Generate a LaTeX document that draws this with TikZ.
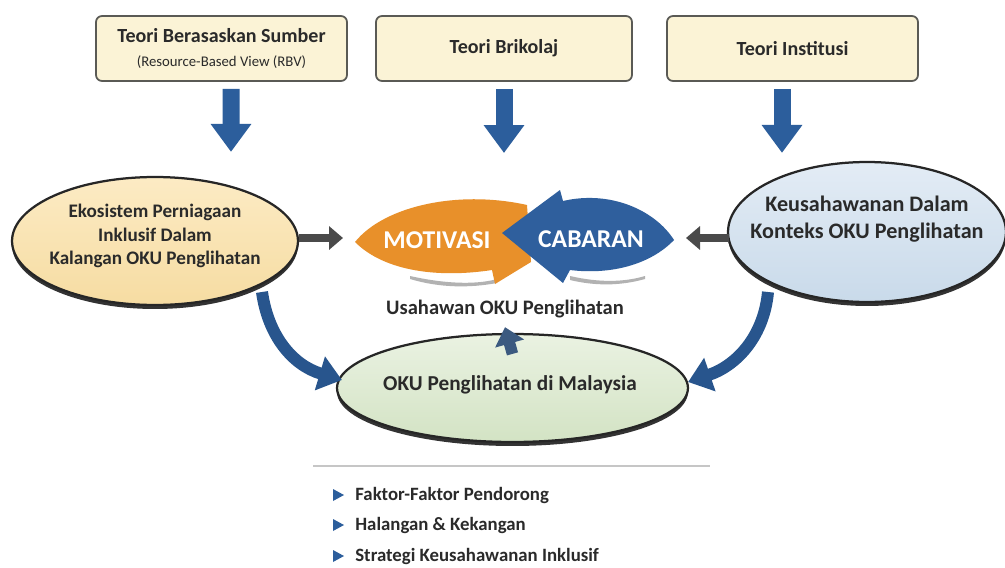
\documentclass[tikz,border=0pt]{standalone}
\usepackage{fontspec}
\setmainfont{Carlito}
\usetikzlibrary{arrows.meta,shapes.geometric}
\definecolor{boxfill}{HTML}{FBF3D6}
\definecolor{boxline}{HTML}{5A5A55}
\definecolor{darkblue}{HTML}{2C5E9C}
\definecolor{ink}{HTML}{2A2A2A}
\definecolor{orng}{HTML}{E8902A}
\definecolor{bluesh}{HTML}{2F5F9D}
\definecolor{garr}{HTML}{4A4A4A}
\definecolor{upblue}{HTML}{3C5A80}
\definecolor{yelA}{HTML}{FCEBC4}
\definecolor{yelB}{HTML}{F6DCA2}
\definecolor{bluA}{HTML}{E3ECF5}
\definecolor{bluB}{HTML}{C9DAEA}
\definecolor{grnA}{HTML}{EAF2E2}
\definecolor{grnB}{HTML}{D3E3C4}
\begin{document}
\begin{tikzpicture}[x=0.02cm,y=-0.02cm,
  tbox/.style={draw=boxline, line width=0.35mm, fill=boxfill, rounded corners=1.2mm,
    minimum height=1.3cm, inner sep=0pt, align=center, text=ink},
  ttl/.style={font=\fontsize{11.4}{13}\selectfont\bfseries},
  ell/.style={ellipse, draw=black!85, line width=0.45mm, inner sep=0pt},
  etext/.style={align=center, text=ink, inner sep=0pt, font=\fontsize{10.9}{13.6}\selectfont\bfseries},
  rim/.style={fill=black!80},
  downarr/.style={darkblue, line width=3.4mm, -{Triangle[length=5.6mm,width=7.8mm]}},
  grayarr/.style={garr, line width=1.7mm, -{Triangle[length=2.8mm,width=4.6mm]}},
  curvarr/.style={darkblue!90!black, line width=2.4mm, -{Triangle[length=4.6mm,width=6.8mm]}},
  uparr/.style={upblue, line width=2.3mm, -{Triangle[length=3.4mm,width=5.8mm]}},
  bigword/.style={text=white, font=\fontsize{14.6}{16}\selectfont\bfseries},
  plain/.style={text=ink, font=\fontsize{11.7}{13}\selectfont\bfseries},
  bul/.style={anchor=west, text=ink, inner sep=0pt, font=\fontsize{10.7}{12}\selectfont\bfseries}
]
\useasboundingbox (0,0) rectangle (1005,568);
\fill[white] (0,0) rectangle (1005,568);

% top boxes
\node[tbox, minimum width=5.02cm] (b1) at (221.5,48.5)
  {{\fontsize{11.4}{13}\selectfont\bfseries Teori Berasaskan Sumber}\\[2pt]
   {\fontsize{8.4}{9}\selectfont (Resource-Based View (RBV)}};
\node[tbox, minimum width=5.12cm, ttl] (b2) at (504,48.5) {Teori Brikolaj};
\node[tbox, minimum width=5.02cm, ttl] (b3) at (792.5,48.5) {Teori Institusi};

% ellipses with dark rim
\fill[rim] (155,245) ellipse [x radius=2.86cm, y radius=1.28cm];
\node[ell, minimum width=5.72cm, minimum height=2.56cm, top color=yelA, bottom color=yelB]
  (eL) at (155,241) {};
\node[etext] (tL) at (155,236) {Ekosistem Perniagaan\\Inklusif Dalam\\Kalangan OKU Penglihatan};
\fill[rim] (867,236) ellipse [x radius=2.78cm, y radius=1.40cm];
\node[ell, minimum width=5.56cm, minimum height=2.8cm, top color=bluA, bottom color=bluB]
  (eR) at (867,232) {};
\node[etext, font=\fontsize{12.6}{15.4}\selectfont\bfseries] (tR) at (867,219)
  {Keusahawanan Dalam\\Konteks OKU Penglihatan};
\fill[rim] (512.5,392) ellipse [x radius=3.51cm, y radius=1.08cm];
\node[ell, minimum width=7.02cm, minimum height=2.16cm, top color=grnA, bottom color=grnB]
  (eB) at (512.5,388) {};
\node[etext, font=\fontsize{12.1}{14}\selectfont\bfseries] (tB) at (510,385) {OKU Penglihatan di Malaysia};

% centre shapes
\fill[gray!60] (410,276) .. controls (450,285) and (480,284) .. (497,279) -- (497,283) .. controls (470,288) and (440,288) .. (410,279) -- cycle;
\fill[gray!60] (570,276) .. controls (600,283) and (625,282) .. (645,276) -- (645,279) .. controls (620,286) and (595,286) .. (570,280) -- cycle;
\fill[orng] (355,242) .. controls (385,205) and (460,190) .. (527,205) -- (531,262)
  -- (495,284) -- (492,270) .. controls (440,278) and (385,272) .. cycle;
\fill[bluesh] (502,233) -- (560,190) -- (563,201) .. controls (610,190) and (655,210) .. (674,240)
  .. controls (650,265) and (610,275) .. (570,270) -- (563,283) -- cycle;
\node[bigword] (mot) at (437,240) {MOTIVASI};
\node[bigword] (cab) at (591,239) {CABARAN};
\coordinate (motL) at (343,238);
\coordinate (cabR) at (686,238);
\node[plain] (usah) at (505,309) {Usahawan OKU Penglihatan};

% arrows
\draw[downarr] ([shift={(9.5,7)}]b1.south) -- ([shift={(76,-24)}]eL.north);
\draw[downarr] ([shift={(0,7)}]b2.south) -- (504,153);
\draw[downarr] ([shift={(-10.5,7)}]b3.south) -- ([shift={(-85,-8)}]eR.north);
\draw[grayarr] (eL.east) ++(0,-3) -- (motL);
\draw[grayarr] (eR.west) ++(2,6) -- (cabR);
\draw[curvarr] (262,292) .. controls (268,335) and (292,365) .. ([shift={(6,-8)}]eB.west);
\draw[curvarr] (768,292) .. controls (764,335) and (738,365) .. ([shift={(-1,-6)}]eB.east);
\draw[uparr] ([yshift=-4.2mm]eB.north) -- ([yshift=-0.6mm]usah.south);

% divider
\draw[gray!45, line width=0.4mm] (313,466) -- (710,466);

% bullets
\node[bul] (l1) at (355,495) {Faktor-Faktor Pendorong};
\node[bul] (l2) at (355,525) {Halangan \& Kekangan};
\node[bul] (l3) at (355,556) {Strategi Keusahawanan Inklusif};
\foreach \n in {l1,l2,l3}
  \fill[darkblue] (\n.west) ++(-22,-6) -- ++(0,12) -- ++(11,-6) -- cycle;
\end{tikzpicture}
\end{document}
